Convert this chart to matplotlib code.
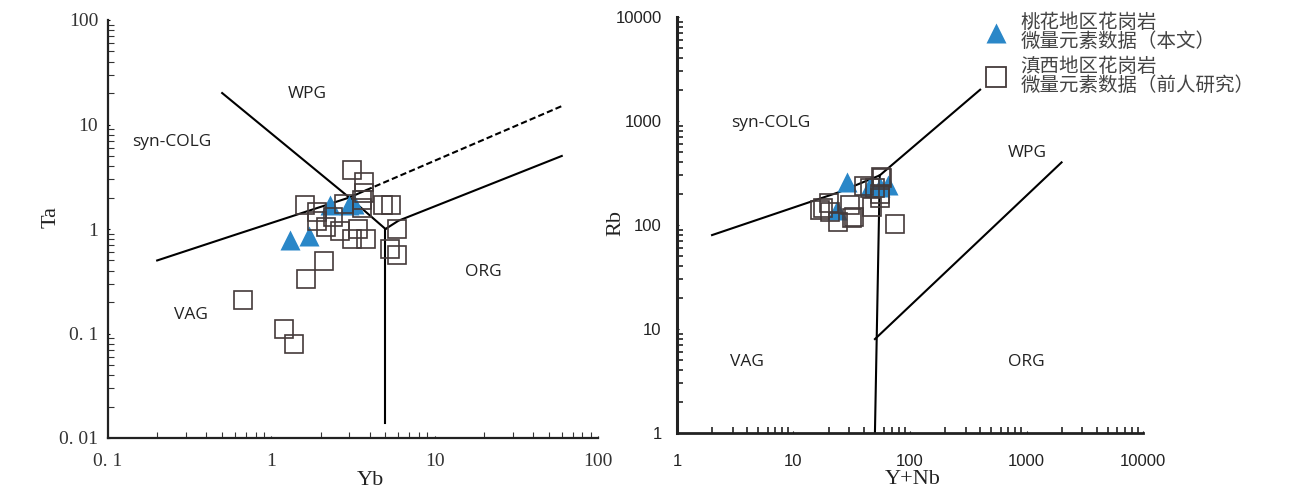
import matplotlib
matplotlib.use("Agg")
import matplotlib.pyplot as plt
from matplotlib.lines import Line2D
from matplotlib.ticker import FixedLocator, FixedFormatter, LogLocator, NullFormatter

# ---------------- data: Ta-Yb diagram ----------------
tri_yb = [1.3, 1.7, 2.3, 3.0, 3.2]
tri_ta = [0.79, 0.86, 1.7, 1.7, 1.75]

sq_yb = [0.67, 1.2, 1.38, 1.64, 2.1, 3.1, 3.7, 3.7, 1.6, 1.9, 1.9, 2.15, 2.4, 2.65,
         3.1, 3.8, 3.4, 3.6, 3.6, 2.8, 4.8, 5.4, 5.9, 5.3, 5.9]
sq_ta = [0.21, 0.11, 0.08, 0.33, 0.49, 3.7, 2.8, 2.2, 1.7, 1.45, 1.2, 1.05, 1.3, 0.95,
         0.8, 0.8, 1.0, 1.6, 1.9, 1.75, 1.7, 1.7, 1.0, 0.65, 0.57]

# boundaries (Yb, Ta)
b1_x = [0.5, 3.0, 5.0]; b1_y = [20, 2.0, 1.0]
b2_x = [0.2, 0.6, 3.0, 3.8]; b2_y = [0.5, 0.88, 2.0, 2.35]
b2d_x = [3.8, 60]; b2d_y = [2.35, 15]
b3_x = [5.0, 5.0]; b3_y = [1.0, 0.014]
b4_x = [5.0, 6.0, 60]; b4_y = [1.0, 1.2, 5.0]

# ---------------- data: Rb-(Y+Nb) diagram ----------------
tri_ynb = [29, 23.5, 65, 45, 55]
tri_rb = [260, 140, 240, 235, 230]

sq_ynb = [57, 40, 50, 55, 47, 55, 20.5, 18, 24, 31.6, 33, 30.5, 74, 17, 20, 45.6, 56]
sq_rb = [280, 237, 225, 200, 150, 180, 134, 145, 108, 116, 120, 156, 102, 139, 162, 225, 290]

r1_x = [2, 24, 55, 400]; r1_y = [80, 205, 300, 2000]
r2_x = [50, 55]; r2_y = [1, 300]
r3_x = [50, 2000]; r3_y = [8, 400]

left_xticks = [0.1, 1, 10, 100]
left_xlabels = ["0. 1", "1", "10", "100"]
left_yticks = [0.01, 0.1, 1, 10, 100]
left_ylabels = ["0. 01", "0. 1", "1", "10", "100"]
right_xticks = [1, 10, 100, 1000, 10000]
right_xlabels = ["1", "10", "100", "1000", "10000"]
right_yticks = [1, 10, 100, 1000, 10000]
right_ylabels = ["1", "10", "100", "1000", "10000"]

legend_labels = ["桃花地区花岗岩\n微量元素数据（本文）", "滇西地区花岗岩\n微量元素数据（前人研究）"]

# ---------------- figure ----------------
W, H = 1294, 492
fig = plt.figure(figsize=(W / 100, H / 100), dpi=100)

def axrect(x0, y0, x1, y1):
    return [x0 / W, 1 - y1 / H, (x1 - x0) / W, (y1 - y0) / H]

axL = fig.add_axes(axrect(108, 20, 598, 438))
axR = fig.add_axes(axrect(677, 17, 1143, 433))

TRI_C = "#2a87c8"
SQ_C = "#443a3a"
LW = 1.5
serif = "Liberation Serif"
sans_lbl = "Open Sans"

for ax in (axL, axR):
    ax.set_xscale("log")
    ax.set_yscale("log")
    for s in ("top", "right"):
        ax.spines[s].set_visible(False)
    for s in ("left", "bottom"):
        ax.spines[s].set_linewidth(1.6)
        ax.spines[s].set_color("#222222")

# ---- left ----
axL.set_xlim(0.1, 100)
axL.set_ylim(0.01, 100)
axL.plot(b1_x, b1_y, color="black", lw=LW, zorder=2)
axL.plot(b2_x, b2_y, color="black", lw=LW, zorder=2)
axL.plot(b2d_x, b2d_y, color="black", lw=LW, ls=(0, (3, 1.5)), zorder=2)
axL.plot(b3_x, b3_y, color="black", lw=LW, zorder=2)
axL.plot(b4_x, b4_y, color="black", lw=LW, zorder=2)
axL.plot(tri_yb, tri_ta, ls="none", marker="^", ms=14, color=TRI_C, mec="none", zorder=3)
axL.plot(sq_yb, sq_ta, ls="none", marker="s", ms=13.5, mfc="none", mec=SQ_C, mew=1.2, zorder=4)

axL.xaxis.set_major_locator(FixedLocator(left_xticks))
axL.xaxis.set_major_formatter(FixedFormatter(left_xlabels))
axL.yaxis.set_major_locator(FixedLocator(left_yticks))
axL.yaxis.set_major_formatter(FixedFormatter(left_ylabels))
for a in (axL.xaxis, axL.yaxis):
    a.set_minor_locator(LogLocator(base=10, subs=range(2, 10)))
    a.set_minor_formatter(NullFormatter())
axL.tick_params(which="major", direction="in", length=1.5, width=0.8, labelsize=14)
axL.tick_params(axis="x", which="major", pad=11)
axL.tick_params(axis="y", which="major", pad=7)
axL.tick_params(which="minor", direction="in", length=4, width=0.8, color="#333333")
for lab in axL.get_xticklabels() + axL.get_yticklabels():
    lab.set_fontfamily(serif)
    lab.set_color("#333333")

axL.set_xlabel("Yb", fontsize=16, fontfamily=serif, color="#222222")
axL.xaxis.set_label_coords(0.535, -0.078)
axL.xaxis.label.set_va("top")
axL.set_ylabel("Ta", fontsize=16, fontfamily=serif, color="#222222")
axL.yaxis.set_label_coords(-0.116, 0.529)
axL.yaxis.label.set_va("center")

lblkw = dict(fontsize=12.5, fontfamily=sans_lbl, color="#222222", ha="center", va="center")
axL.text(1.66, 19.5, "WPG", **lblkw)
axL.text(0.247, 6.84, "syn-COLG", **lblkw)
axL.text(0.323, 0.150, "VAG", **lblkw)
axL.text(19.9, 0.39, "ORG", **lblkw)

# ---- right ----
axR.set_xlim(1, 10000)
axR.set_ylim(1, 10000)
axR.plot(r1_x, r1_y, color="black", lw=LW, zorder=2)
axR.plot(r2_x, r2_y, color="black", lw=LW, zorder=2)
axR.plot(r3_x, r3_y, color="black", lw=LW, zorder=2)
axR.plot(tri_ynb, tri_rb, ls="none", marker="^", ms=14, color=TRI_C, mec="none", zorder=3)
axR.plot(sq_ynb, sq_rb, ls="none", marker="s", ms=13.5, mfc="none", mec=SQ_C, mew=1.2, zorder=4)

axR.xaxis.set_major_locator(FixedLocator(right_xticks))
axR.xaxis.set_major_formatter(FixedFormatter(right_xlabels))
axR.yaxis.set_major_locator(FixedLocator(right_yticks))
axR.yaxis.set_major_formatter(FixedFormatter(right_ylabels))
for a in (axR.xaxis, axR.yaxis):
    a.set_minor_locator(LogLocator(base=10, subs=range(2, 10)))
    a.set_minor_formatter(NullFormatter())
axR.spines["left"].set_linewidth(2.2)
axR.spines["bottom"].set_linewidth(2.0)
axR.tick_params(which="major", direction="in", length=1.5, width=0.8, labelsize=12)
axR.tick_params(axis="x", which="major", pad=15)
axR.tick_params(axis="y", which="major", pad=11)
axR.tick_params(which="minor", direction="in", length=4, width=1.2, color="#222222")
for lab in axR.get_xticklabels() + axR.get_yticklabels():
    lab.set_fontfamily("Liberation Sans")
    lab.set_color("#222222")

axR.set_xlabel("Y+Nb", fontsize=16, fontfamily=serif, color="#222222")
axR.xaxis.set_label_coords(0.506, -0.09)
axR.xaxis.label.set_va("top")
axR.set_ylabel("Rb", fontsize=16, fontfamily=serif, color="#222222")
axR.yaxis.set_label_coords(-0.131, 0.505)
axR.yaxis.label.set_va("center")

axR.text(6.37, 963, "syn-COLG", **lblkw)
axR.text(1012, 489, "WPG", **lblkw)
axR.text(3.99, 4.85, "VAG", **lblkw)
axR.text(988, 4.85, "ORG", **lblkw)

handles = [
    Line2D([], [], ls="none", marker="^", ms=15, color=TRI_C, mec="none"),
    Line2D([], [], ls="none", marker="s", ms=15, mfc="none", mec=SQ_C, mew=1.3),
]
leg = axR.legend(handles, legend_labels, loc="upper left",
                 bbox_to_anchor=(972 / W, 1 - 2 / H), bbox_transform=fig.transFigure,
                 frameon=False, borderpad=0, handletextpad=0.5, labelspacing=0.22,
                 handlelength=1.5,
                 prop={"family": ["Noto Sans CJK SC", "DejaVu Sans"], "size": 14})
for t in leg.get_texts():
    t.set_color("#444444")
    t.set_linespacing(0.88)

fig.savefig("out.png", dpi=100)
